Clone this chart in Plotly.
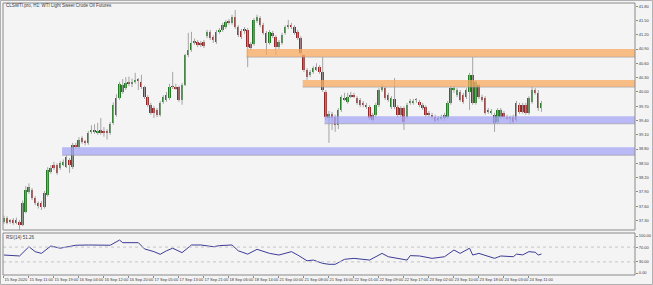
import plotly.graph_objects as go

title_text = "CLSWTI.pro, H1: WTI Light Sweet Crude Oil Futures"
rsi_label = "RSI(14) 51.26"

opens = [37.27,37.35,37.29,37.31,37.25,37.27,37.21,37.48,37.90,37.94,
         37.77,37.67,37.67,37.58,37.84,38.32,38.47,38.47,38.40,38.47,
         38.42,38.57,38.42,38.89,38.84,39.03,38.95,38.93,39.16,39.20,
         39.14,39.20,39.18,39.16,39.14,39.35,39.52,39.87,40.00,40.08,
         40.19,40.17,40.21,40.25,40.21,40.10,39.89,39.73,39.66,39.62,
         39.52,39.79,39.83,39.87,40.12,40.10,40.10,39.83,40.15,40.77,
         40.88,41.03,41.05,41.01,41.05,41.17,41.26,41.15,41.05,41.26,
         41.30,41.36,41.47,41.45,41.57,41.36,41.28,41.32,41.30,41.01,
         41.01,41.49,41.55,41.41,41.24,41.03,41.24,41.15,40.94,41.03,
         41.24,41.36,41.41,41.36,41.26,41.13,40.77,40.46,40.36,40.42,
         40.48,40.52,40.42,40.00,39.45,39.54,39.47,39.31,39.62,39.87,
         39.79,39.91,39.94,39.87,39.83,39.77,39.73,39.68,39.52,39.52,
         39.73,40.04,40.08,39.94,39.68,39.85,39.68,39.66,39.66,39.47,
         39.77,39.77,39.83,39.79,39.73,39.68,39.56,39.52,39.47,39.45,
         39.45,39.45,39.47,39.77,40.04,39.94,40.00,39.94,39.89,40.00,
         40.36,39.77,40.15,39.89,39.87,39.62,39.56,39.52,39.37,39.47,
         39.56,39.47,39.45,39.47,39.41,39.73,39.73,39.73,39.56,39.79,
         40.04,39.98,39.66]
highs = [37.40,37.39,37.33,37.35,37.36,37.31,37.72,38.02,38.08,37.98,
         37.81,37.70,37.71,37.92,38.42,38.46,38.53,38.50,38.55,38.58,
         38.67,38.61,38.93,38.93,39.05,39.07,38.99,39.18,39.30,39.32,
         39.35,39.45,39.26,39.22,39.37,39.78,39.95,40.21,40.27,40.31,
         40.32,40.28,40.40,40.29,40.36,40.13,39.93,39.77,39.70,39.66,
         39.81,39.93,40.00,40.17,40.42,40.17,40.13,40.19,40.80,41.24,
         41.26,41.12,41.09,41.07,41.09,41.30,41.30,41.19,41.30,41.34,
         41.45,41.51,41.53,41.62,41.72,41.40,41.32,41.36,41.34,41.05,
         41.55,41.62,41.59,41.45,41.28,41.30,41.28,41.19,41.09,41.24,
         41.40,41.51,41.45,41.40,41.30,41.17,40.80,40.50,40.46,40.54,
         40.60,40.56,40.73,40.04,39.60,39.58,39.52,39.66,39.93,39.98,
         39.98,40.00,39.98,39.91,39.87,39.81,39.77,39.72,39.56,39.77,
         40.08,40.17,40.12,39.98,39.91,40.29,39.72,39.70,39.70,39.77,
         39.85,39.85,39.87,39.83,39.77,39.72,39.60,39.56,39.52,39.49,
         39.52,39.56,39.81,40.12,40.12,40.08,40.04,39.98,40.08,40.40,
         40.73,40.25,40.19,39.94,39.91,39.66,39.64,39.56,39.66,39.66,
         39.60,39.52,39.50,39.52,39.81,39.77,39.77,39.77,39.91,40.10,
         40.08,40.04,39.81]
lows = [37.23,37.22,37.23,37.21,37.22,37.10,37.18,37.45,37.86,37.73,
        37.62,37.55,37.52,37.55,37.80,38.28,38.36,38.26,38.36,38.44,
        38.40,38.30,38.38,38.80,38.80,38.91,38.88,38.89,39.12,39.12,
        39.10,39.10,39.06,39.00,39.10,39.31,39.48,39.83,39.96,40.04,
        40.12,40.10,40.17,40.04,40.06,39.85,39.68,39.52,39.45,39.47,
        39.48,39.75,39.79,39.83,40.06,40.04,39.79,39.73,40.12,40.73,
        40.84,40.99,40.94,40.94,40.92,41.13,41.09,41.03,41.01,41.22,
        41.26,41.32,41.41,41.41,41.32,41.15,41.11,41.22,40.52,40.86,
        40.97,41.45,41.36,41.20,40.77,40.99,41.13,40.77,40.90,40.99,
        41.20,41.32,41.32,41.20,41.09,40.77,40.42,40.25,40.31,40.38,
        40.44,40.38,40.00,39.41,38.93,39.20,39.16,39.22,39.58,39.81,
        39.75,39.87,39.87,39.73,39.68,39.68,39.64,39.41,39.37,39.47,
        39.68,40.00,39.83,39.79,39.64,39.64,39.47,39.47,39.20,39.43,
        39.73,39.73,39.77,39.68,39.62,39.47,39.47,39.43,39.35,39.37,
        39.41,39.39,39.43,39.73,39.98,39.89,39.79,39.75,39.85,39.62,
        39.73,39.73,39.85,39.79,39.52,39.54,39.52,39.16,39.33,39.43,
        39.43,39.41,39.33,39.33,39.37,39.54,39.54,39.52,39.52,39.75,
        39.94,39.60,39.58]
closes = [37.35,37.25,37.27,37.25,37.31,37.21,37.67,37.94,38.00,37.77,
          37.67,37.60,37.58,37.88,38.36,38.40,38.40,38.30,38.51,38.53,
          38.63,38.47,38.89,38.84,38.99,38.95,38.93,39.14,39.20,39.16,
          39.18,39.14,39.14,39.15,39.33,39.73,39.87,40.17,40.15,40.19,
          40.17,40.19,40.25,40.24,40.10,39.89,39.73,39.56,39.56,39.52,
          39.77,39.89,39.94,40.10,40.11,40.08,39.83,40.15,40.77,40.88,
          41.03,41.05,40.99,40.99,40.96,41.26,41.13,41.09,41.26,41.30,
          41.41,41.47,41.46,41.57,41.36,41.20,41.15,41.28,40.94,40.92,
          41.51,41.57,41.41,41.24,41.03,41.26,41.17,40.94,41.05,41.20,
          41.36,41.41,41.36,41.24,41.13,40.82,40.46,40.31,40.42,40.50,
          40.52,40.42,40.04,39.47,39.54,39.45,39.31,39.62,39.89,39.85,
          39.89,39.94,39.91,39.77,39.73,39.73,39.68,39.45,39.41,39.73,
          40.04,40.10,39.87,39.83,39.87,39.68,39.52,39.52,39.37,39.73,
          39.79,39.79,39.84,39.73,39.66,39.52,39.52,39.47,39.39,39.41,
          39.47,39.52,39.77,40.08,40.08,40.04,39.83,39.79,40.04,40.36,
          39.77,40.21,39.89,39.83,39.56,39.58,39.60,39.35,39.62,39.62,
          39.47,39.45,39.46,39.37,39.77,39.58,39.58,39.56,39.87,40.04,
          39.98,39.66,39.77]

rsi_bars = [0,5,8,10,12,15,18,20,23,27,31,34,37,38,43,45,48,50,52,54,
            57,60,63,66,67,69,73,75,78,81,85,88,92,94,97,99,102,104,106,109,
            112,117,121,123,126,129,130,133,137,141,144,146,149,150,152,155,157,159,163,164,
            166,168,170,171,172]
rsi_vals = [48.6,46,71,57.7,53,73,67,71,75,75.7,75.7,75,89,82,82,65,57.7,50.5,60,67,
            55,75.7,75.7,73,71,74,75.7,60,51,64,53,48.6,57.7,48.6,33,35,26,23.5,23.5,37,
            39.6,35,53,44,39.6,35,47,46,39.6,44,62,53,67,48.6,53,44,39.6,46,44,51,
            49,57.7,56,48.6,51.26]

time_ticks = list(range(0, 169, 8))
time_labels = ["15 Sep 2020","15 Sep 11:00","15 Sep 19:00","16 Sep 04:00","16 Sep 12:00",
               "16 Sep 20:00","17 Sep 05:00","17 Sep 13:00","17 Sep 21:00","18 Sep 06:00",
               "18 Sep 14:00","21 Sep 00:00","21 Sep 08:00","21 Sep 16:00","22 Sep 01:00",
               "22 Sep 09:00","22 Sep 17:00","23 Sep 02:00","23 Sep 10:00","23 Sep 18:00",
               "24 Sep 03:00","24 Sep 11:00"]
price_ticks = [37.30,37.60,37.90,38.20,38.50,38.80,39.10,39.40,39.70,40.00,
               40.30,40.60,40.90,41.20,41.50,41.80]
rsi_ticks = [0,30,70,100]

# zones: (start bar, low, high, kind)
zone_start = [78, 96, 103, 19]
zone_low = [40.73, 40.10, 39.33, 38.67]
zone_high = [40.90, 40.25, 39.49, 38.84]
zone_kind = ["supply", "supply", "demand", "demand"]

W, H = 653, 285
x_dom = [3 / W, 635 / W]
main_dom = [1 - 230 / H, 1 - 3 / H]
rsi_dom = [1 - 275 / H, 1 - 233 / H]
x_range = [-0.3, -0.3 + 632 / 3.125]

bg = "#f4f4f4"
green = "#217a21"
red = "#962626"
wick = "#a4a4a4"
axis_col = "#8a8a8a"
txt = "#3a3a3a"

n = len(closes)
idx = list(range(n))

wx, wy = [], []
for i in idx:
    wx += [i, i, None]
    wy += [lows[i], highs[i], None]

base = [min(o, c) for o, c in zip(opens, closes)]
hgt = [max(abs(c - o), 0.012) for o, c in zip(opens, closes)]
cols = [green if c >= o else red for o, c in zip(opens, closes)]

fig = go.Figure()
fig.add_trace(go.Scatter(x=wx, y=wy, mode="lines", line=dict(color=wick, width=1),
                         hoverinfo="skip", showlegend=False, xaxis="x", yaxis="y"))
fig.add_trace(go.Bar(x=idx, y=hgt, base=base, marker=dict(color=cols, line=dict(width=0)),
                     width=0.62, showlegend=False, xaxis="x", yaxis="y"))
fig.add_trace(go.Scatter(x=rsi_bars, y=rsi_vals, mode="lines",
                         line=dict(color="#3c3c96", width=1), showlegend=False,
                         xaxis="x", yaxis="y2"))

shapes = []
for s, lo, hi, k in zip(zone_start, zone_low, zone_high, zone_kind):
    fill = "rgba(249,171,96,0.75)" if k == "supply" else "rgba(165,165,247,0.75)"
    shapes.append(dict(type="rect", xref="x", yref="y", x0=s - 0.4, x1=x_range[1],
                       y0=lo, y1=hi, fillcolor=fill, line=dict(width=0), layer="above"))
    shapes.append(dict(type="line", xref="x", yref="y", x0=s - 0.4, x1=x_range[1],
                       y0=lo, y1=lo, line=dict(color="rgba(150,150,150,0.6)", width=1),
                       layer="above"))
for lv in [30, 70]:
    shapes.append(dict(type="line", xref="paper", yref="y2", x0=x_dom[0], x1=x_dom[1],
                       y0=lv, y1=lv, line=dict(color="#c4c4c4", width=1, dash="dot")))
# pane frames
for dom in [main_dom, rsi_dom]:
    shapes.append(dict(type="rect", xref="paper", yref="paper", x0=x_dom[0], x1=x_dom[1],
                       y0=dom[0], y1=dom[1], line=dict(color=axis_col, width=1),
                       fillcolor="rgba(0,0,0,0)"))
shapes.append(dict(type="rect", xref="paper", yref="paper", x0=0.5 / W, x1=1 - 0.5 / W,
                   y0=0.5 / H, y1=1 - 0.5 / H, line=dict(color="#b0b0b0", width=1),
                   fillcolor="rgba(0,0,0,0)", layer="below"))

fig.update_layout(
    width=W, height=H, margin=dict(l=0, r=0, t=0, b=0),
    paper_bgcolor=bg, plot_bgcolor=bg, bargap=0,
    font=dict(family="Liberation Sans, Arial, sans-serif", size=4, color=txt),
    xaxis=dict(domain=x_dom, range=x_range, anchor="y2", showgrid=False, zeroline=False,
               tickmode="array", tickvals=time_ticks, ticktext=time_labels,
               ticks="outside", ticklen=2, tickcolor=axis_col, tickwidth=1, tickangle=0,
               ticklabelposition="outside right", tickfont=dict(size=4, color=txt),
               showline=False),
    yaxis=dict(domain=main_dom, range=[37.10, 41.866], side="right", anchor="x",
               showgrid=False, zeroline=False, tickmode="array", tickvals=price_ticks,
               ticktext=[f"{v:.2f}" for v in price_ticks], ticks="outside", ticklen=2,
               tickcolor=axis_col, tickfont=dict(size=4, color=txt), showline=False),
    yaxis2=dict(domain=rsi_dom, range=[-5.4, 108.1], side="right", anchor="x",
                showgrid=False, zeroline=False, tickmode="array", tickvals=rsi_ticks,
                ticktext=[f"{v:.2f}" for v in rsi_ticks], ticks="outside", ticklen=2,
                tickcolor=axis_col, tickfont=dict(size=4, color=txt), showline=False),
    shapes=shapes,
    annotations=[
        dict(text=title_text, xref="paper", yref="paper", x=4 / W, y=1 - 5 / H,
             xanchor="left", yanchor="middle", showarrow=False,
             font=dict(size=4.5, color=txt)),
        dict(text=rsi_label, xref="paper", yref="paper", x=4 / W, y=1 - 237 / H,
             xanchor="left", yanchor="middle", showarrow=False,
             font=dict(size=4.5, color=txt)),
    ],
)

fig.write_html("out.html")
